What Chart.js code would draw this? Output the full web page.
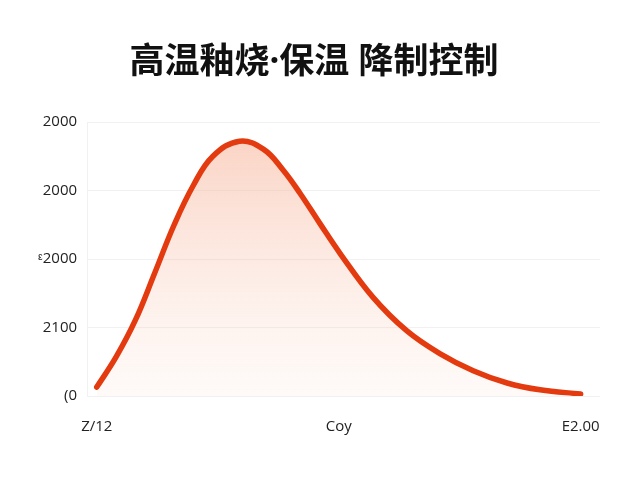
<!DOCTYPE html>
<html>
<head>
<meta charset="utf-8">
<script src="https://cdn.jsdelivr.net/npm/chart.js@4"></script>
<style>
  html, body { margin: 0; padding: 0; background: #fff; }
  #wrap { width: 640px; height: 480px; }
</style>
</head>
<body>
<div id="wrap"><canvas id="kiln-chart"></canvas></div>
<script>
// 曲线数据
const xs = [0, 4, 8, 12, 16, 20, 24, 29.5, 34.5, 38.5, 42.0, 46.1, 50.3, 57.1, 64.1, 70.9, 77.8, 84.8, 91.6, 100];
const ys = [13, 57, 111, 180, 250, 308, 350, 372, 360, 330, 296, 252, 208, 144, 95, 62, 37, 19, 9, 3];

// 刻度标签 (原图文字)
const yTickLabels = ['(0', '2100', 'ᵋ2000', '2000', '2000'];
const xTickValues = [0, 50, 100];
const xTickLabels = ['Z/12', 'Coy', 'E2.00'];

const titleText = '高温釉烧·保温 降制控制';

function renderChart() {
    const ctx = document.getElementById('kiln-chart');
    if (!ctx) return;

    new Chart(ctx, {
        type: 'line',
        data: {
            datasets: [{
                data: xs.map((x, i) => ({ x: x, y: ys[i] })),
                borderColor: '#e43a0f',
                borderWidth: 5.5,
                borderCapStyle: 'round',
                pointRadius: 0,
                tension: 0.4,
                fill: 'origin',
                backgroundColor: function(context) {
                    const area = context.chart.chartArea;
                    if (!area) return 'rgba(245,160,130,0.3)';
                    const g = context.chart.ctx.createLinearGradient(0, area.top, 0, area.bottom);
                    g.addColorStop(0, 'rgba(246,170,140,0.55)');
                    g.addColorStop(1, 'rgba(250,215,200,0.12)');
                    return g;
                }
            }]
        },
        options: {
            responsive: true,
            maintainAspectRatio: false,
            animation: false,
            layout: {
                padding: { left: 28, right: 40, top: 0, bottom: 30 }
            },
            plugins: {
                legend: { display: false },
                tooltip: { enabled: false },
                title: {
                    display: true,
                    text: titleText,
                    color: '#111',
                    font: {
                        family: '"Noto Sans", "Noto Sans CJK SC", sans-serif',
                        size: 35,
                        weight: 'bold'
                    },
                    padding: { top: 42, bottom: 38 }
                }
            },
            scales: {
                x: {
                    type: 'linear',
                    min: -2,
                    max: 104,
                    afterBuildTicks: function(axis) {
                        axis.ticks = xTickValues.map(v => ({ value: v }));
                    },
                    ticks: {
                        color: '#222',
                        font: { family: '"Open Sans", sans-serif', size: 15 },
                        padding: 14,
                        maxRotation: 0,
                        callback: function(value) {
                            const i = xTickValues.indexOf(value);
                            return i >= 0 ? xTickLabels[i] : '';
                        }
                    },
                    grid: { display: false },
                    border: { display: false }
                },
                y: {
                    min: 0,
                    max: 400,
                    ticks: {
                        stepSize: 100,
                        color: '#222',
                        font: { family: '"Open Sans", sans-serif', size: 15 },
                        padding: 10,
                        callback: function(value) {
                            return yTickLabels[Math.round(value / 100)];
                        }
                    },
                    grid: { color: '#f1f1f1', lineWidth: 1, drawTicks: false },
                    border: { display: true, color: '#f1f1f1' }
                }
            }
        }
    });
}

renderChart();
</script>
</body>
</html>
